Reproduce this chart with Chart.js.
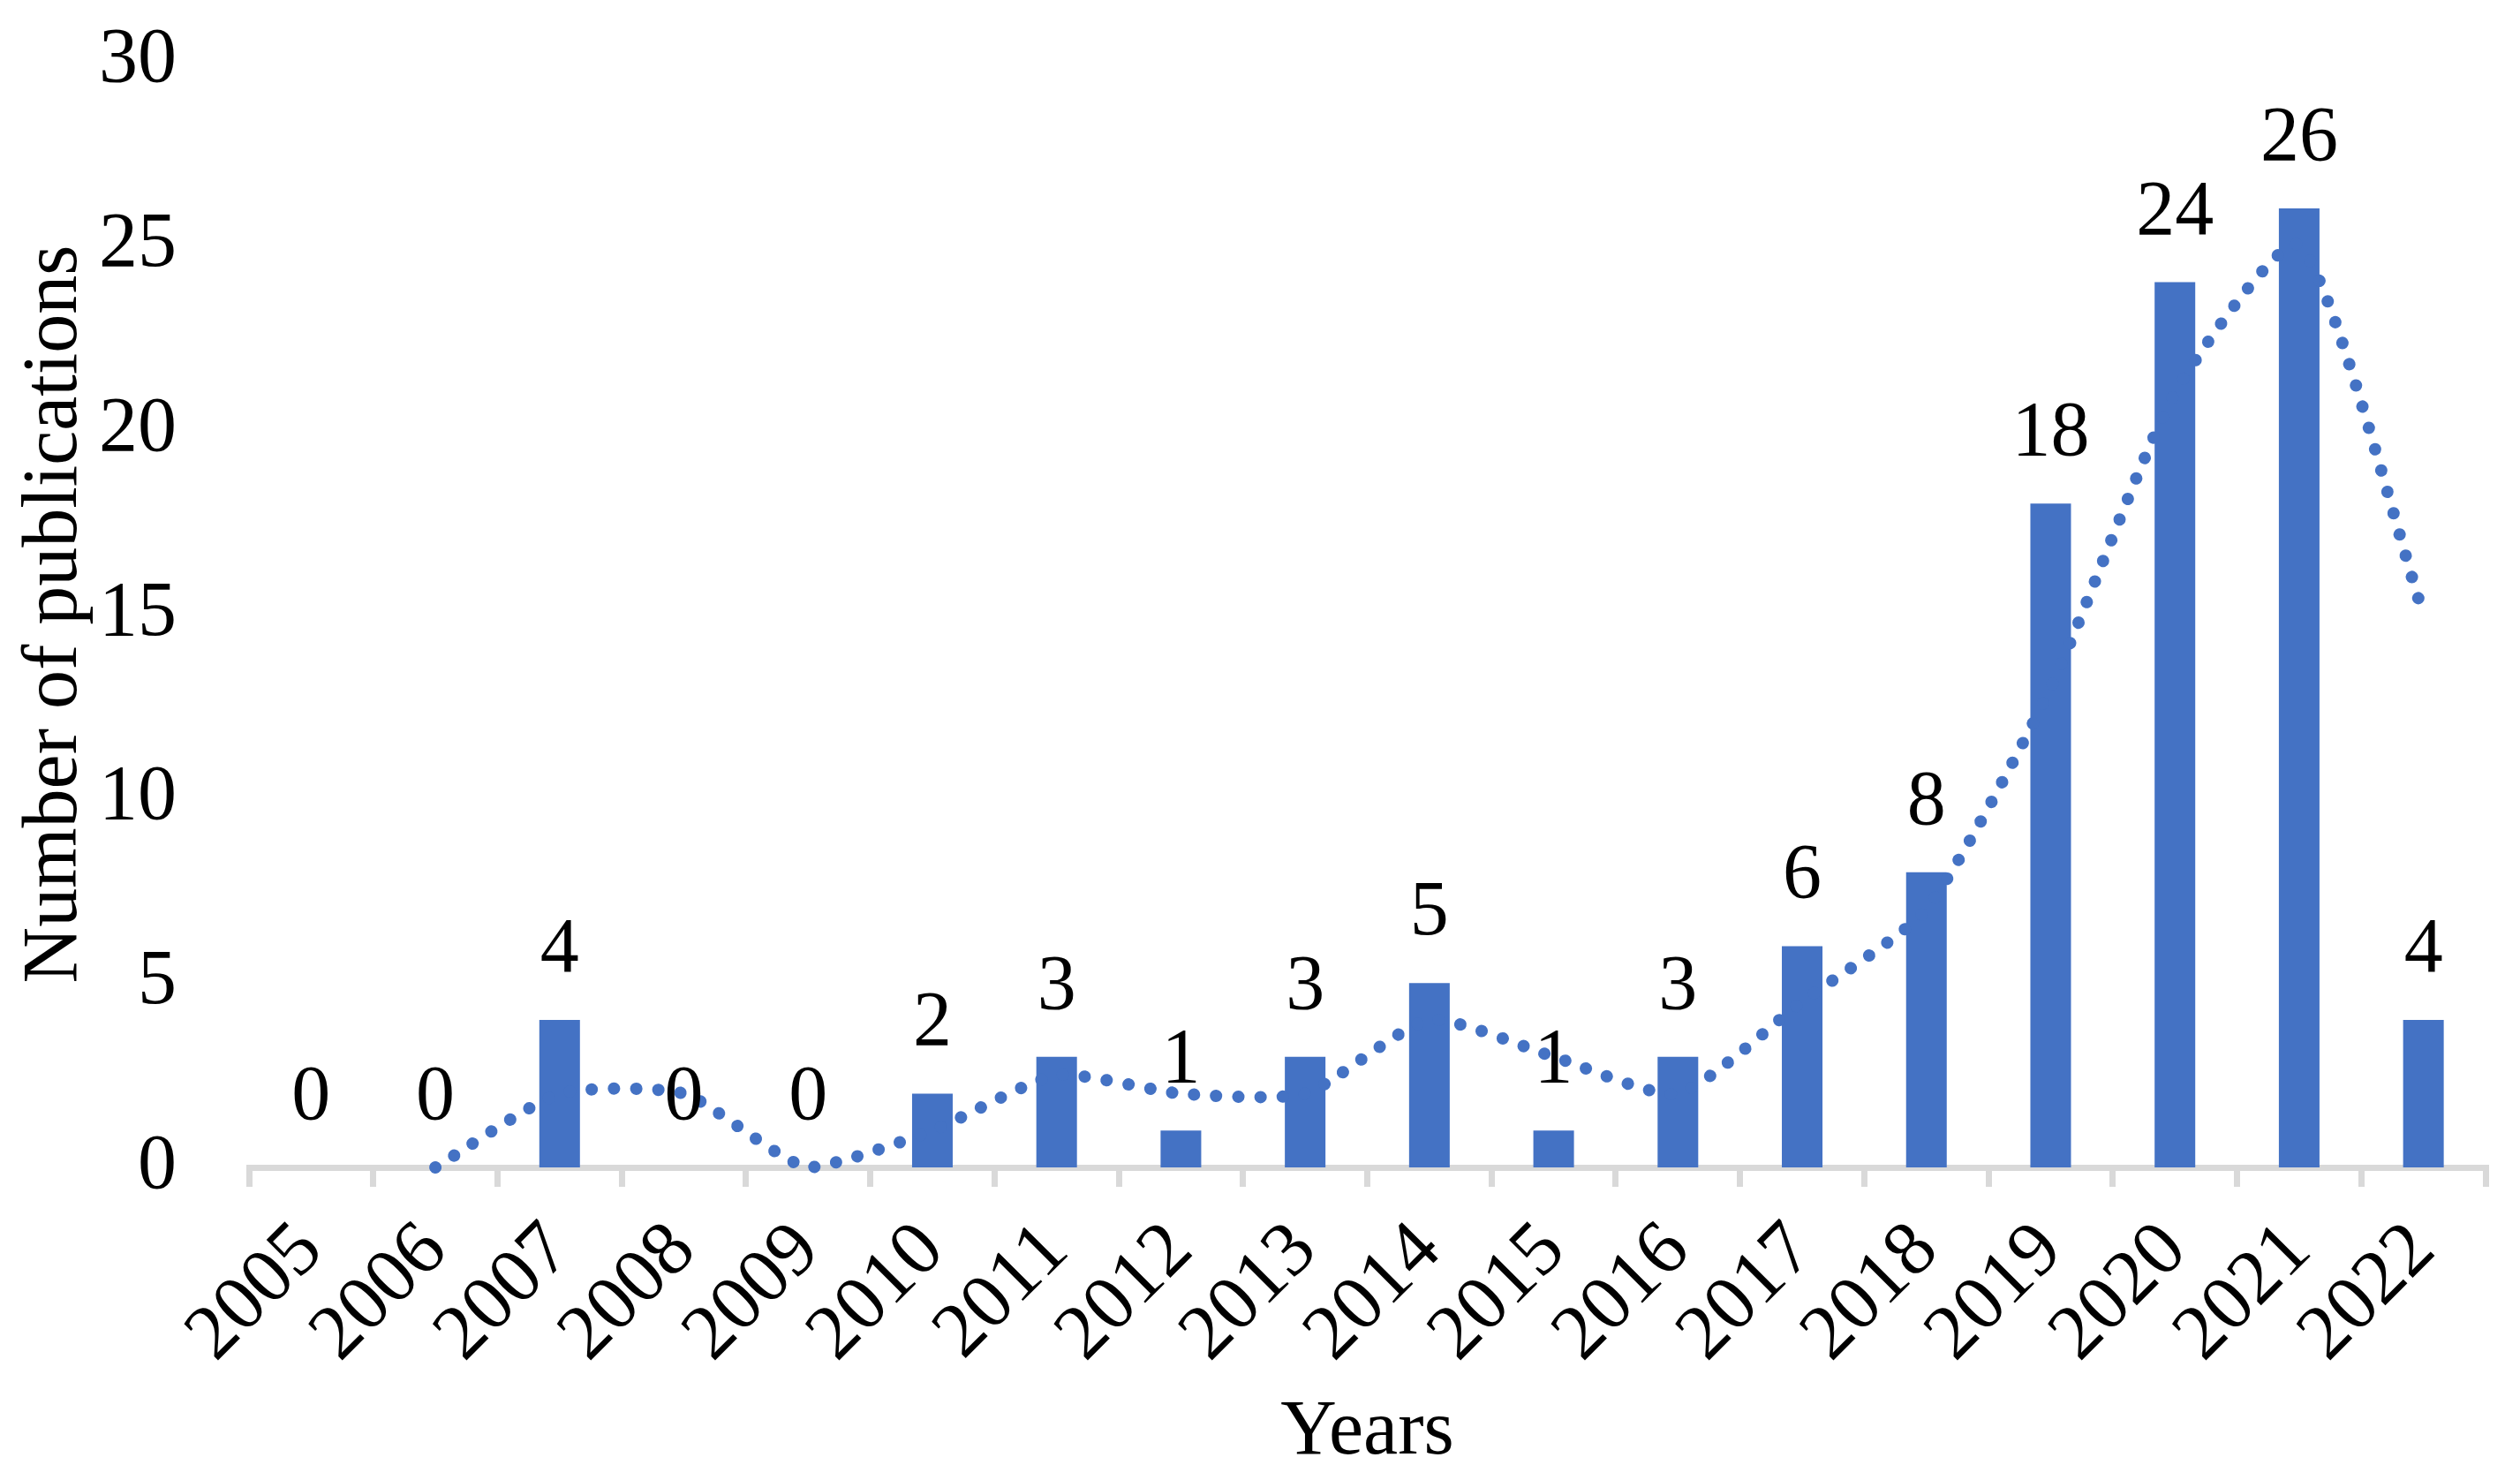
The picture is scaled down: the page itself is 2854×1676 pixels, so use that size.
<!DOCTYPE html>
<html>
<head>
<meta charset="utf-8">
<script src="https://cdn.jsdelivr.net/npm/chart.js@4/dist/chart.umd.min.js"></script>
<style>
  html, body { margin: 0; padding: 0; background: #fff; }
  canvas { display: block; }
</style>
</head>
<body>
<canvas id="chart" width="2854" height="1676"></canvas>
<script>
'use strict';

// ── Data ───────────────────────────────────────────────────
const years = ['2005', '2006', '2007', '2008', '2009', '2010', '2011', '2012', '2013',
    '2014', '2015', '2016', '2017', '2018', '2019', '2020', '2021', '2022'];
const publications = [0, 0, 4, 0, 0, 2, 3, 1, 3, 5, 1, 3, 6, 8, 18, 24, 26, 4];
// dotted trend line (2-period moving average)
const trend = [null, 0, 2, 2, 0, 1, 2.5, 2, 2, 4, 3, 2, 4.5, 7, 13, 21, 25, 15];
const yTicks = [0, 5, 10, 15, 20, 25, 30];

// ── Style ──────────────────────────────────────────────────
const BLUE = '#4472C4';
const AXIS = '#d9d9d9';
const FONT = "'Liberation Serif', 'Times New Roman', serif";
const FS = 88;

// bar value labels, drawn above everything
const barLabels = {
    id: 'barLabels',
    afterDatasetsDraw(chart) {
        const ctx = chart.ctx;
        const meta = chart.getDatasetMeta(0);
        ctx.save();
        ctx.font = `${FS}px ${FONT}`;
        ctx.fillStyle = '#000';
        ctx.textAlign = 'center';
        ctx.textBaseline = 'alphabetic';
        meta.data.forEach((bar, i) => {
            ctx.fillText(String(publications[i]), bar.x, bar.y - 55);
        });
        ctx.restore();
    },
};

new Chart(document.getElementById('chart'), {
    type: 'bar',
    data: {
        labels: years,
        datasets: [
            {
                type: 'bar',
                data: publications,
                backgroundColor: BLUE,
                barPercentage: 0.327,
                categoryPercentage: 1,
                order: 2,
            },
            {
                type: 'line',
                data: trend,
                borderColor: BLUE,
                borderWidth: 14,
                borderDash: [0.1, 25],
                borderCapStyle: 'round',
                pointRadius: 0,
                tension: 0.2,
                fill: false,
                clip: false,
                order: 1,
            },
        ],
    },
    options: {
        responsive: false,
        devicePixelRatio: 1,
        animation: false,
        layout: { padding: { top: 69, right: 39, left: 0, bottom: 0 } },
        plugins: {
            legend: { display: false },
            tooltip: { enabled: false },
        },
        scales: {
            x: {
                afterFit: (axis) => {
                    axis.height = 354;
                    axis.paddingLeft = 0;
                    axis.paddingRight = 0;
                },
                grid: {
                    offset: true,
                    drawOnChartArea: false,
                    color: AXIS,
                    lineWidth: 7,
                    tickLength: 22,
                },
                border: { color: AXIS, width: 7 },
                ticks: {
                    color: '#000',
                    font: { family: FONT, size: FS },
                    maxRotation: 45,
                    minRotation: 45,
                    padding: 21,
                    autoSkip: false,
                },
                title: {
                    display: true,
                    text: 'Years',
                    color: '#000',
                    font: { family: FONT, size: FS },
                    padding: { top: 0, bottom: 0 },
                },
            },
            y: {
                min: 0,
                max: 30,
                afterBuildTicks: (axis) => { axis.ticks = yTicks.map(v => ({ value: v })); },
                afterFit: (axis) => {
                    axis.width = 282;
                    axis.paddingTop = 0;
                    axis.paddingBottom = 0;
                },
                grid: { display: false },
                border: { display: false },
                ticks: {
                    color: '#000',
                    font: { family: FONT, size: FS },
                    padding: 74,
                },
                title: {
                    display: true,
                    text: 'Number of publications',
                    color: '#000',
                    font: { family: FONT, size: FS },
                    padding: { top: 10, bottom: 0 },
                },
            },
        },
    },
    plugins: [barLabels],
});
</script>
</body>
</html>
